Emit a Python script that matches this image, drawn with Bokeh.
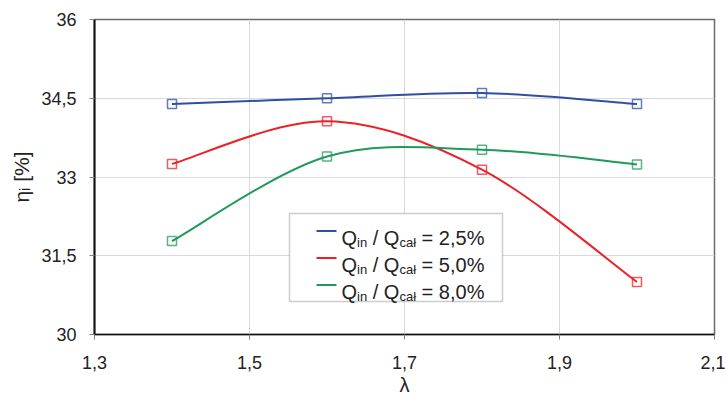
from bokeh.plotting import figure
from bokeh.models import (Label, FixedTicker, CustomJSTickFormatter, Range1d,
                          BoxAnnotation, ColumnDataSource)
from bokeh.embed import file_html
from bokeh.resources import INLINE

# ---- data ----
lam = [1.4, 1.6, 1.8, 2.0]
eta_25 = [34.39, 34.50, 34.60, 34.39]
eta_50 = [33.25, 34.06, 33.14, 31.00]
eta_80 = [31.78, 33.39, 33.52, 33.24]
series = [eta_25, eta_50, eta_80]
series_values = ["2,5%", "5,0%", "8,0%"]
colors = ["#2f4fa2", "#ee2027", "#1f9a5b"]
x_ticks = [1.3, 1.5, 1.7, 1.9, 2.1]
y_ticks = [30, 31.5, 33, 34.5, 36]
x_title = "λ"
y_title = "ηᵢ [%]"

FONT = "Liberation Sans"

p = figure(frame_width=620, frame_height=315,
           x_range=Range1d(1.3, 2.1), y_range=Range1d(30, 36),
           output_backend="svg", toolbar_location=None,
           min_border_left=94, min_border_right=11, min_border_top=19,
           min_border_bottom=61)
p.background_fill_color = "white"
p.border_fill_color = "white"
p.outline_line_color = "#6a6a6a"
p.outline_line_width = 1.5

for ax, ticks in ((p.xaxis, x_ticks), (p.yaxis, y_ticks)):
    ax.ticker = FixedTicker(ticks=ticks)
    ax.formatter = CustomJSTickFormatter(code="return (Math.round(tick*10)/10).toString().replace('.', ',');")
    ax.major_label_text_font = FONT
    ax.major_label_text_font_size = "18px"
    ax.major_label_text_color = "#222222"
    ax.major_tick_line_color = "#7f7f7f"
    ax.major_tick_out = 5
    ax.major_tick_in = 0
    ax.minor_tick_line_color = None
    ax.axis_line_color = "#111111"
    ax.axis_label_text_font = FONT
    ax.axis_label_text_font_style = "normal"
    ax.axis_label_text_color = "#222222"
p.xaxis.axis_label_text_font_size = "20px"
p.yaxis.axis_label_text_font_size = "21px"
p.xaxis.major_label_standoff = 16
p.yaxis.major_label_standoff = 13
p.xaxis.axis_label = x_title
p.yaxis.axis_label = y_title
p.xaxis.axis_label_standoff = 2
p.yaxis.axis_label_standoff = 5
p.yaxis.axis_line_width = 2
p.xaxis.axis_line_width = 1.5
p.xgrid.ticker = FixedTicker(ticks=x_ticks)
p.ygrid.ticker = FixedTicker(ticks=y_ticks)
p.xgrid.grid_line_color = "#d9d9d9"
p.ygrid.grid_line_color = "#d9d9d9"


def smooth(xs, ys):
    n = len(xs)
    d = dict(x0=[], y0=[], x1=[], y1=[], cx0=[], cy0=[], cx1=[], cy1=[])
    for i in range(n - 1):
        xm, ym = (xs[i - 1], ys[i - 1]) if i > 0 else (xs[i], ys[i])
        xp, yp = (xs[i + 2], ys[i + 2]) if i + 2 < n else (xs[i + 1], ys[i + 1])
        d["x0"].append(xs[i]); d["y0"].append(ys[i])
        d["x1"].append(xs[i + 1]); d["y1"].append(ys[i + 1])
        d["cx0"].append(xs[i] + (xs[i + 1] - xm) / 6)
        d["cy0"].append(ys[i] + (ys[i + 1] - ym) / 6)
        d["cx1"].append(xs[i + 1] - (xp - xs[i]) / 6)
        d["cy1"].append(ys[i + 1] - (yp - ys[i]) / 6)
    return ColumnDataSource(d)


for ys, c in zip(series, colors):
    p.bezier(x0="x0", y0="y0", x1="x1", y1="y1", cx0="cx0", cy0="cy0", cx1="cx1", cy1="cy1",
             source=smooth(lam, ys), line_color=c, line_width=2)
    p.scatter(lam, ys, marker="square", size=9, fill_color=None, line_color=c,
              line_width=1.5, line_alpha=0.75)


def lab(x, y, text, size):
    p.add_layout(Label(x=x, y=y, x_units="canvas", y_units="canvas", text=text,
                       text_font=FONT, text_font_size=f"{size}px", text_color="#222222",
                       text_align="left", text_baseline="alphabetic"))


# ---- legend ----
W = {"Q": 0.778, "i": 0.222, "n": 0.556, " ": 0.278, "/": 0.278, "c": 0.5, "a": 0.556,
     "ł": 0.222, "=": 0.584, ",": 0.278, "%": 0.889}
def width(s, size):
    return sum(W.get(ch, 0.556) for ch in s) * size

p.add_layout(BoxAnnotation(left=289, right=502, top=213, bottom=301,
                           left_units="canvas", right_units="canvas",
                           top_units="canvas", bottom_units="canvas",
                           fill_color="white", fill_alpha=1.0,
                           line_color="#5a5a5a", line_width=1.5))
F, S = 20, 13
sp = width(" ", F)
for k, (val, c) in enumerate(zip(series_values, colors)):
    base = 237 + 27 * k
    cy = base - 6.5
    p.add_layout(BoxAnnotation(left=316, right=336, top=cy - 1, bottom=cy + 1,
                               left_units="canvas", right_units="canvas",
                               top_units="canvas", bottom_units="canvas",
                               fill_color=c, fill_alpha=1.0, line_color=None))
    x = 341.0
    for txt, size, dy, gap in (("Q", F, 0, 0), ("in", S, 5, 0), ("/", F, 0, sp),
                               ("Q", F, 0, sp), ("cał", S, 5, 0), ("=", F, 0, sp),
                               (val, F, 0, sp)):
        x += gap
        lab(x, base + dy, txt, size)
        x += width(txt, size)

open("out.html", "w").write(file_html(p, INLINE))
